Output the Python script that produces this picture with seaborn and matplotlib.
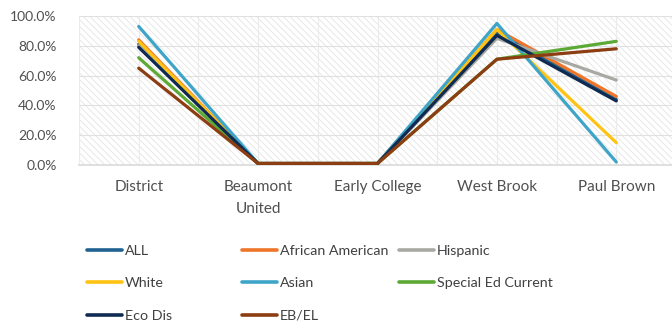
import matplotlib
matplotlib.use("Agg")
import matplotlib.pyplot as plt
from matplotlib.lines import Line2D
from matplotlib.patches import Rectangle
from matplotlib.ticker import MultipleLocator, FuncFormatter
import seaborn as sns
import pandas as pd

# Campuses along the x axis
campuses = ["District", "Beaumont\nUnited", "Early College", "West Brook", "Paul Brown"]

# Share of students per group at each campus (%)
all_students = [81, 1, 1, 89, 44]
african_american = [84, 1, 1, 91, 46]
hispanic = [80, 1, 1, 85, 57]
white = [83, 1, 1, 91, 15]
asian = [93, 1, 1, 95, 2]
special_ed = [72, 1, 1, 71, 83]
eco_dis = [79, 1, 1, 87, 43]
eb_el = [65, 1, 1, 71, 78]

groups = ["ALL", "African American", "Hispanic", "White", "Asian",
          "Special Ed Current", "Eco Dis", "EB/EL"]
series = [all_students, african_american, hispanic, white, asian,
          special_ed, eco_dis, eb_el]
colors = ["#1f6191", "#ee7529", "#a9a9a4", "#ffc313", "#3fa5c8",
          "#5ca935", "#0f2b52", "#8c3d12"]

rows = []
for g, vals in zip(groups, series):
    for c, v in zip(campuses, vals):
        rows.append({"campus": c, "group": g, "pct": v / 100})
df = pd.DataFrame(rows)

sns.set_theme(style="white")
plt.rcParams["font.family"] = ["Lato", "DejaVu Sans"]
plt.rcParams["hatch.linewidth"] = 0.6
plt.rcParams["hatch.color"] = "#e2e2e2"

fig = plt.figure(figsize=(6.72, 3.33), dpi=100)
ax = fig.add_axes([79 / 672, (333 - 165) / 333, 597 / 672, 149 / 333])

# faint textured plot background
ax.add_patch(Rectangle((0, 0), 1, 1, transform=ax.transAxes, facecolor="white",
                       edgecolor="#e4e4e4", hatch="\\\\\\\\\\", lw=0, zorder=0))

sns.lineplot(data=df, x="campus", y="pct", hue="group", hue_order=groups,
             palette=dict(zip(groups, colors)), linewidth=2.3, sort=False,
             legend=False, ax=ax, zorder=3)

ax.set_xlim(-0.5, 4.5)
ax.set_ylim(0, 1.0)
ax.yaxis.set_major_locator(MultipleLocator(0.2))
ax.yaxis.set_major_formatter(FuncFormatter(lambda v, p: f"{v * 100:.1f}%"))
ax.xaxis.set_minor_locator(MultipleLocator(0.5))
ax.grid(True, which="major", axis="y", color="#e0e0e0", lw=0.8, zorder=1)
ax.grid(True, which="both", axis="x", color="#ebebeb", lw=0.8, zorder=1)
ax.set_xlabel("")
ax.set_ylabel("")
for s in ax.spines.values():
    s.set_visible(False)
ax.spines["bottom"].set_visible(True)
ax.spines["bottom"].set_color("#dcdcdc")
ax.tick_params(axis="both", which="both", length=0, colors="#505050")
ax.tick_params(axis="y", pad=16, labelsize=10)
ax.tick_params(axis="x", pad=11, labelsize=11)
for lab in ax.get_xticklabels():
    lab.set_linespacing(1.7)

# legend laid out in three columns
handles = {g: Line2D([], [], color=c, lw=2.6) for g, c in zip(groups, colors)}
cols = [(["ALL", "White", "Eco Dis"], 80),
        (["African American", "Asian", "EB/EL"], 235),
        (["Hispanic", "Special Ed Current"], 392)]
for names, x0 in cols:
    fig.legend([handles[n] for n in names], names, loc="upper left",
               bbox_to_anchor=(x0 / 672, 1 - 238 / 333), frameon=False,
               fontsize=10.3, handlelength=2.45, handletextpad=0.2,
               labelspacing=1.42, borderpad=0, labelcolor="#404040")

fig.savefig("out.png", dpi=100, facecolor="white")
